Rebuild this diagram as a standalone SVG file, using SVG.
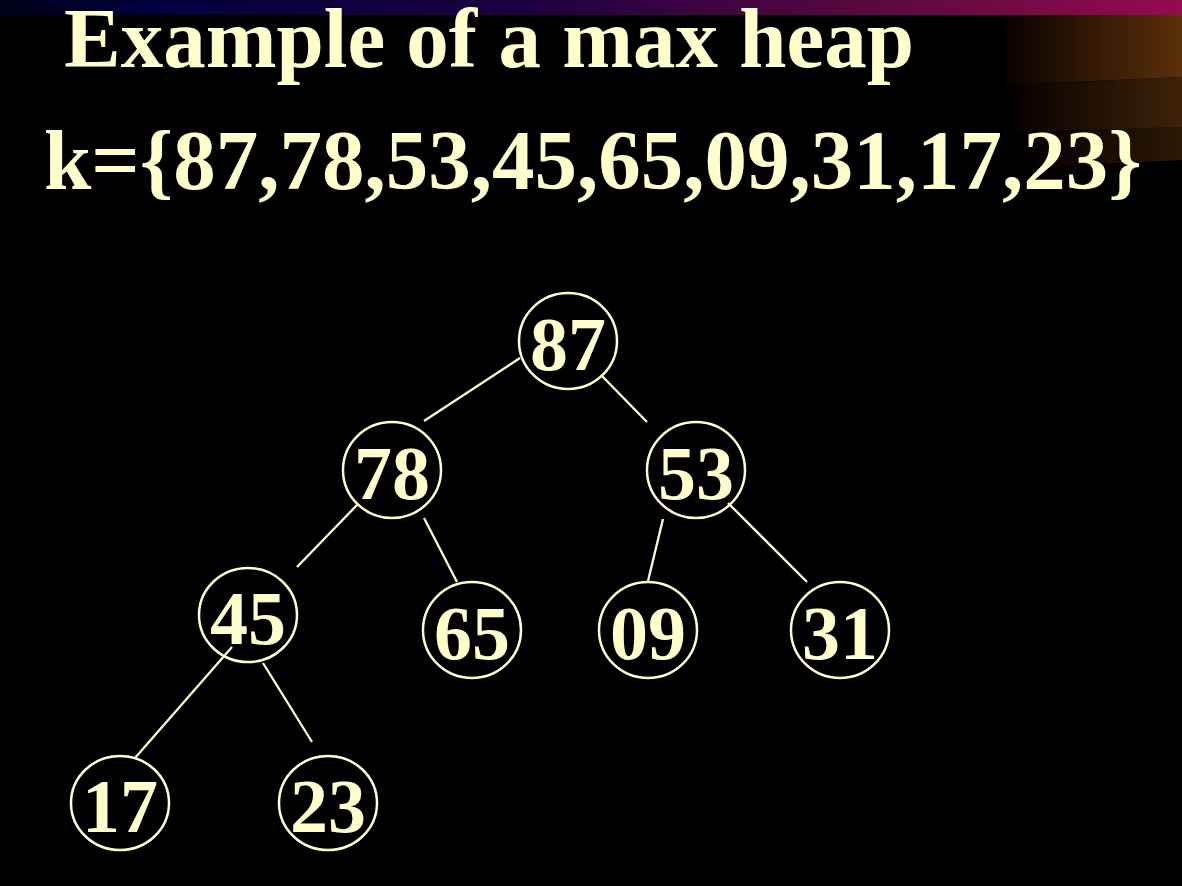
<svg xmlns="http://www.w3.org/2000/svg" width="1182" height="886" viewBox="0 0 1182 886">
<defs>
<linearGradient id="bar" x1="0" y1="0" x2="1" y2="0">
<stop offset="0" stop-color="#000018"/>
<stop offset="0.12" stop-color="#00003c"/>
<stop offset="0.45" stop-color="#1e0040"/>
<stop offset="0.75" stop-color="#5e083f"/>
<stop offset="1" stop-color="#960a50"/>
</linearGradient>
<linearGradient id="b1" x1="0" y1="0" x2="1" y2="0">
<stop offset="0" stop-color="#080200"/>
<stop offset="1" stop-color="#5c300a"/>
</linearGradient>
<linearGradient id="b2" x1="0" y1="0" x2="1" y2="0">
<stop offset="0" stop-color="#080100"/>
<stop offset="1" stop-color="#3e2208"/>
</linearGradient>
<linearGradient id="b3" x1="0" y1="0" x2="1" y2="0">
<stop offset="0" stop-color="#050000"/>
<stop offset="1" stop-color="#2c1806"/>
</linearGradient>
<style>
.t{font-family:"Liberation Serif","Times New Roman",serif;font-weight:bold;fill:#FFFFCC;}
.h{font-size:85px;}
.n{font-size:76px;text-anchor:middle;}
.c{fill:none;stroke:#FFFFCC;stroke-width:2.5;}
.e{stroke:#FFFFCC;stroke-width:2.3;fill:none;}
</style>
</defs>
<rect width="1182" height="886" fill="#000000"/>
<rect x="0" y="0" width="1182" height="15" fill="url(#bar)"/>
<polygon points="1005,15 1182,15 1182,77 1005,85" fill="url(#b1)"/>
<polygon points="1015,85 1182,77 1182,127 1015,132" fill="url(#b2)"/>
<polygon points="1033,132 1182,127 1182,160 1033,167" fill="url(#b3)"/>
<text class="t h" x="64" y="67">Example of a max heap</text>
<text class="t h" x="44" y="189">k={87,78,53,45,65,09,31,17,23}</text>
<g id="connectors">
<line class="e" x1="424" y1="421" x2="520" y2="358"/>
<line class="e" x1="601" y1="375" x2="647" y2="422"/>
<line class="e" x1="358" y1="504" x2="297" y2="567"/>
<line class="e" x1="424" y1="518" x2="457" y2="582"/>
<line class="e" x1="663" y1="519" x2="648" y2="581"/>
<line class="e" x1="728" y1="503" x2="807" y2="582"/>
<line class="e" x1="232" y1="647" x2="135" y2="758"/>
<line class="e" x1="263" y1="663" x2="312" y2="742"/>
</g>
<g id="n87"><ellipse class="c" cx="568" cy="341" rx="49" ry="48"/><text class="t n" x="568" y="370">87</text></g>
<g id="n78"><ellipse class="c" cx="392" cy="470" rx="49" ry="48"/><text class="t n" x="392" y="499">78</text></g>
<g id="n53"><ellipse class="c" cx="696" cy="470" rx="49" ry="48"/><text class="t n" x="696" y="499">53</text></g>
<g id="n45"><ellipse class="c" cx="248" cy="615" rx="49" ry="47"/><text class="t n" x="248" y="644">45</text></g>
<g id="n65"><ellipse class="c" cx="472" cy="630" rx="49" ry="48"/><text class="t n" x="472" y="659">65</text></g>
<g id="n09"><ellipse class="c" cx="648" cy="630" rx="49" ry="48"/><text class="t n" x="648" y="659">09</text></g>
<g id="n31"><ellipse class="c" cx="840" cy="630" rx="49" ry="48"/><text class="t n" x="840" y="659">31</text></g>
<g id="n17"><ellipse class="c" cx="120" cy="803" rx="49" ry="47"/><text class="t n" x="120" y="832">17</text></g>
<g id="n23"><ellipse class="c" cx="328" cy="803" rx="49" ry="47"/><text class="t n" x="328" y="832">23</text></g>
</svg>
